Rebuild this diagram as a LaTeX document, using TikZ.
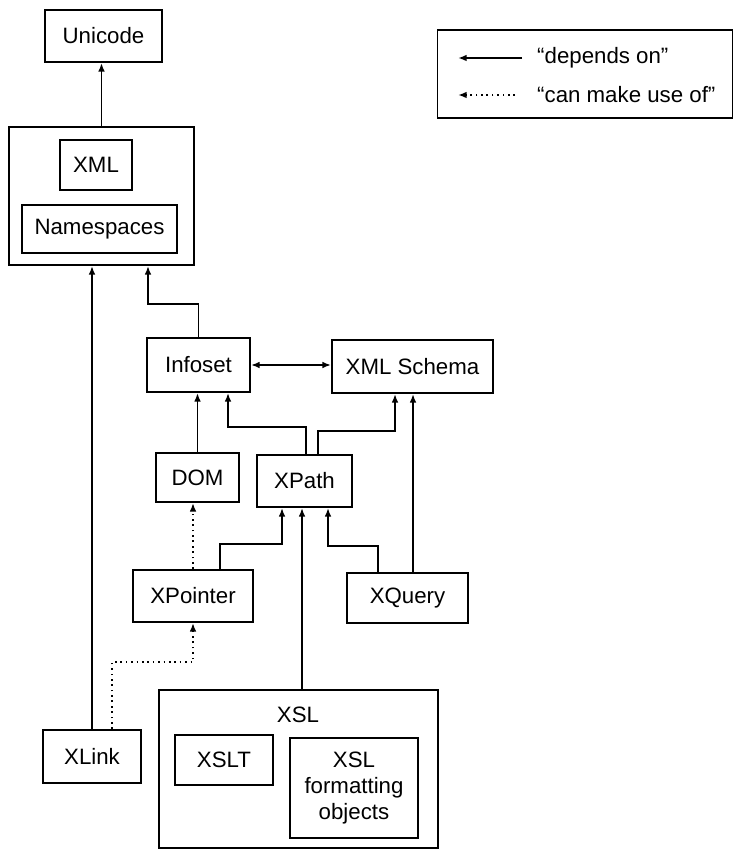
\documentclass[tikz,border=0pt]{standalone}
\usepackage{fontspec}
\setmainfont{Liberation Sans}
\usetikzlibrary{positioning, arrows.meta, calc}

\begin{document}
\begin{tikzpicture}[x=0.03cm, y=-0.03cm,
    >={Latex[length=2.6mm, width=2mm]},
    every node/.style={font=\fontsize{19}{22}\selectfont, inner sep=0pt},
    box/.style={rectangle, draw, line width=1.6pt, align=center},
    arr/.style={->, line width=1.6pt},
    darr/.style={arr, dash pattern=on 1.4pt off 3.2pt}]
  \useasboundingbox (0,0) rectangle (734,853);
  % xml core
  \node[box, minimum width=3.51cm, minimum height=1.56cm] (unicode) at (103.5,36) {Unicode};
  \node[box, minimum width=5.55cm, minimum height=4.14cm] (xmlouter) at (101.5,196) {};
  \node[box, minimum width=2.16cm, minimum height=1.5cm] (xml) at (96,165) {XML};
  \node[box, minimum width=4.65cm, minimum height=1.44cm] (ns) at (99.5,229) {Namespaces};
  % legend
  \node[box, minimum width=8.85cm, minimum height=2.64cm] (legend) at (585,74) {};
  \node[anchor=west] (ldep) at (537,58) {“depends on”};
  \node[anchor=west] (luse) at (537,95) {“can make use of”};
  \draw[arr] ($(ldep.west)+(-15,0)$) -- ++(-64,0);
  \draw[darr] ($(luse.west)+(-22,0)$) -- ++(-57,0);
  % middle layer
  \node[box, minimum width=3.09cm, minimum height=1.62cm] (infoset) at (198.5,365) {Infoset};
  \node[box, minimum width=4.83cm, minimum height=1.59cm] (schema) at (412.5,366.5) {XML Schema};
  \node[box, minimum width=2.49cm, minimum height=1.47cm] (dom) at (197.5,477.5) {DOM};
  \node[box, minimum width=2.85cm, minimum height=1.56cm] (xpath) at (304.5,481) {XPath};
  \node[box, minimum width=3.6cm, minimum height=1.56cm] (xpointer) at (193,596) {XPointer};
  \node[box, minimum width=3.63cm, minimum height=1.5cm] (xquery) at (407.5,598) {XQuery};
  % bottom
  \node[box, minimum width=2.94cm, minimum height=1.59cm] (xlink) at (92,756.5) {XLink};
  \node[box, minimum width=8.37cm, minimum height=4.74cm] (xsl) at (298.5,769) {};
  \node (xsllabel) at (298,715) {XSL};
  \node[box, minimum width=2.94cm, minimum height=1.5cm] (xslt) at (224,760) {XSLT};
  \node[box, minimum width=3.84cm, minimum height=3cm] (xslfo) at (354,788) {XSL\\formatting\\objects};
  % depends on
  \draw[arr] (xmlouter.north) -- (xmlouter.north |- unicode.south);
  \draw[arr] (infoset.north) -- ++(0,-33) -| ($(xmlouter.south)+(46.5,0)$);
  \draw[arr] (xlink.north) -- (xlink.north |- xmlouter.south);
  \draw[<->, line width=1.6pt] (infoset.east) -- (infoset.east -| schema.west);
  \draw[arr] (dom.north) -- (dom.north |- infoset.south);
  \draw[arr] ($(xpath.north)+(1.5,0)$) -- ++(0,-27) -| ($(infoset.south)+(29.5,0)$);
  \draw[arr] ($(xpath.north)+(13.5,0)$) -- ++(0,-23) -| ($(schema.south)+(-17.5,0)$);
  \coordinate (qs) at ($(xquery.north)+(5.5,0)$);
  \draw[arr] (qs) -- (qs |- schema.south);
  \draw[arr] ($(xquery.north)+(-29.5,0)$) -- ++(0,-26) -| ($(xpath.south)+(23.5,0)$);
  \draw[arr] ($(xpointer.north)+(27,0)$) -- ++(0,-25) -| ($(xpath.south)+(-22.5,0)$);
  \coordinate (xs) at ($(xsl.north)+(3.5,0)$);
  \draw[arr] (xs) -- (xs |- xpath.south);
  % can make use of
  \draw[darr] (xpointer.north) -- (xpointer.north |- dom.south);
  \draw[darr] ($(xlink.north)+(20,0)$) -- ++(0,-67) -| (xpointer.south);
\end{tikzpicture}
\end{document}
